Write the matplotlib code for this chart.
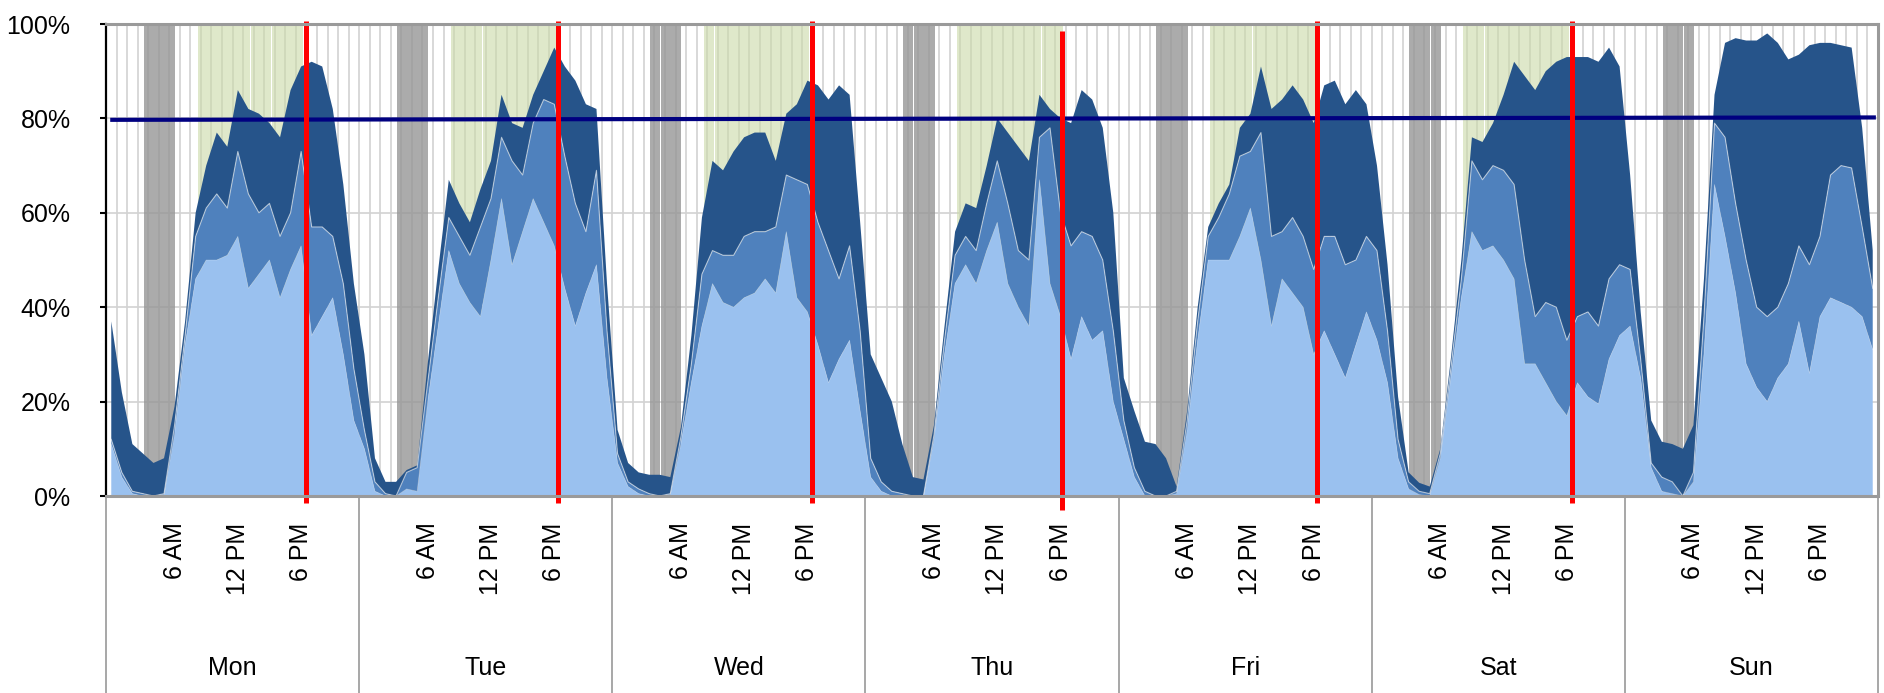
import numpy as np
import matplotlib
matplotlib.use("Agg")
import matplotlib.pyplot as plt
from matplotlib.transforms import blended_transform_factory

plt.rcParams['font.family'] = ['Liberation Sans', 'DejaVu Sans']

# ---------------- data ----------------
days = ["Mon", "Tue", "Wed", "Thu", "Fri", "Sat", "Sun"]
hour_ticks = [6, 12, 18]
hour_tick_labels = ["6 AM", "12 PM", "6 PM"]

# three stacked series, one row of 24 hourly values per day (percent)
light = [
    [11, 4, 0.5, 0, 0, 0.3, 13, 32, 46, 50, 50, 51, 55, 44, 47, 50, 42, 48, 53, 34, 38, 42, 30, 16],
    [10, 1, 0, 0, 1.5, 1, 20, 36, 52, 45, 41, 38, 50, 63, 49, 56, 63, 58, 53, 44, 36, 43, 49, 25],
    [7, 2, 0.5, 0, 0, 0.3, 11, 24, 36, 45, 41, 40, 42, 43, 46, 43, 56, 42, 39, 32, 24, 29, 33, 18],
    [4, 1, 0, 0, 0, 0, 12, 30, 45, 49, 45, 52, 58, 45, 40, 36, 67, 45, 38, 29, 38, 33, 35, 20],
    [12, 4, 0, 0, 0, 0.5, 14, 33, 50, 50, 50, 55, 61, 50, 36, 46, 43, 40, 30, 35, 30, 25, 32, 39],
    [33, 24, 8, 1.5, 0.3, 0, 8, 25, 42, 56, 52, 53, 50, 46, 28, 28, 24, 20, 17, 24, 21, 19.5, 29, 34],
    [36, 25, 6, 1, 0.5, 0, 3, 30, 66, 55, 43, 28, 23, 20, 25, 28, 37, 26, 38, 42, 41, 40, 38, 31],
]
medium = [
    [1, 1, 0.5, 0.5, 0, 0.2, 2, 2, 9, 11, 14, 10, 18, 20, 13, 12, 13, 12, 20, 23, 19, 13, 15, 11],
    [4, 2, 0.5, 0, 3.5, 5, 4, 6, 7, 10, 10, 19, 13, 13, 22, 12, 16, 26, 30, 28, 26, 13, 20, 10],
    [2, 1, 1, 0.5, 0, 0.2, 1.5, 4, 11, 7, 10, 11, 13, 13, 10, 14, 12, 25, 27, 26, 28, 17, 20, 17],
    [4, 2, 1, 0.5, 0, 0, 1, 3, 6, 6, 7, 10, 13, 17, 12, 14, 9, 33, 22, 24, 18, 22, 15, 15],
    [4, 2, 1, 0, 0, 0.5, 2, 4, 5, 9, 14, 17, 12, 27, 19, 10, 16, 15, 18, 20, 25, 24, 18, 16],
    [19, 11, 4, 1.5, 0.7, 0.5, 1, 2, 4, 15, 15, 17, 19, 20, 22, 10, 17, 20, 16, 14, 18, 16.5, 17, 15],
    [12, 4, 1, 3, 2.5, 0, 2, 8, 13, 21, 19, 22, 17, 18, 15, 17, 16, 23, 17, 26, 29, 29.5, 19, 13],
]
dark = [
    [25, 17, 10, 8.5, 7, 7.5, 4, 3, 5, 9, 13, 13, 13, 18, 21, 17, 21, 26, 18, 35, 34, 27, 21, 18],
    [16, 5, 2.5, 3, 0.5, 0.5, 4, 6, 8, 7, 7, 8, 8, 9, 8, 10, 6, 6, 12, 19, 26, 27, 13, 10],
    [5, 4, 3.5, 4, 4.5, 3.5, 2, 6, 12, 19, 18, 22, 21, 21, 21, 14, 13, 16, 22, 29, 32, 41, 32, 23],
    [22, 22, 19, 10.5, 4, 3.5, 2, 3, 5, 7, 9, 8, 9, 15, 22, 21, 9, 4, 20, 26, 30, 29, 28, 25],
    [9, 12, 10.5, 11, 8, 1, 2, 3, 2, 3, 2, 6, 8, 14, 27, 28, 28, 29, 31, 32, 33, 34, 36, 28],
    [18, 14, 9, 2, 1.8, 1.5, 1, 2, 4, 5, 8, 9, 16, 26, 39, 48, 49, 52, 60, 55, 54, 56, 49, 42],
    [20, 10, 9, 7.5, 8, 10, 10, 8, 6, 20, 35, 46.5, 56.5, 60, 56, 47.5, 40.5, 46.5, 41, 28, 25.5, 25.5, 21, 8],
]

night_hours = [3, 4, 5]              # grey columns
work_hours = list(range(8, 18))      # green columns
work_days = [0, 1, 2, 3, 4, 5]       # days with green columns
peak_day = [0, 1, 2, 3, 4, 5]        # red markers
peak_hour = [19.0, 18.9, 18.9, 18.65, 18.85, 19.0]
target_level = [79.7, 80.2]          # navy reference line (start, end)

# ---------------- figure ----------------
W, H = 1884, 693
fig = plt.figure(figsize=(W / 100, H / 100), dpi=100)
ax = fig.add_axes([106 / W, 197 / H, 1772 / W, 472 / H])

n_days = len(days)
n = 24 * n_days
x = np.arange(n) + 0.5
L = np.concatenate([np.asarray(r, float) for r in light])
M = np.concatenate([np.asarray(r, float) for r in medium])
D = np.concatenate([np.asarray(r, float) for r in dark])

# gridlines (under the semi-transparent columns)
for gx in range(1, n):
    ax.axvline(gx, color='#D2D2D2', lw=1.2, zorder=1)
for gy in [20, 40, 60, 80]:
    ax.axhline(gy, color='#D2D2D2', lw=1.2, zorder=1)

# background columns
for d in range(n_days):
    ax.bar([d * 24 + h + 0.58 for h in night_hours], 100, width=0.97, align='edge',
           color='#969696', alpha=0.8, linewidth=0, zorder=1.5)
for d in work_days:
    ax.bar([d * 24 + h + 0.7 for h in work_hours], 100, width=0.99, align='edge',
           color='#CAD9A8', alpha=0.6, linewidth=0, zorder=1.5)

# stacked areas
ax.stackplot(x, L, M, D, colors=['#9AC1EF', '#4F81BD', '#26548A'],
             linewidth=0, zorder=2)
ax.plot(x, L + M, color='white', lw=0.8, alpha=0.55, zorder=2.5)
ax.plot(x, L, color='white', lw=0.5, alpha=0.3, zorder=2.5)

# navy reference line
ax.plot([0.4, n - 0.2], target_level, color='#000080', lw=3.0, zorder=4,
        solid_capstyle='butt')

# red markers
for d, hh in zip(peak_day, peak_hour):
    top, bot = (100.6, -1.5) if d != 3 else (98.5, -3.0)
    ax.plot([d * 24 + hh] * 2, [bot, top], color='#FF0000', lw=3.6, zorder=5,
            clip_on=False, solid_capstyle='butt')

ax.set_xlim(0, n)
ax.set_ylim(0, 100)

# y axis
ax.set_yticks([0, 20, 40, 60, 80, 100])
ax.set_yticklabels([f"{v}%" for v in [0, 20, 40, 60, 80, 100]], fontsize=18)
ax.tick_params(axis='y', direction='out', length=4.5, width=1.5, pad=21,
               colors='black')

# x axis (multi-level category labels)
xt, xl = [], []
for d in range(n_days):
    for h, lab in zip(hour_ticks, hour_tick_labels):
        xt.append(d * 24 + h + 0.5)
        xl.append(lab)
ax.set_xticks(xt)
ax.set_xticklabels(xl, rotation=90, fontsize=18)
ax.tick_params(axis='x', length=0, pad=19)

trans = blended_transform_factory(ax.transData, ax.transAxes)
for d in range(n_days + 1):
    ax.plot([d * 24, d * 24], [0, -0.42], transform=trans, color='#A0A0A0',
            lw=1.3, clip_on=False, zorder=1)
for d, name in enumerate(days):
    ax.text(d * 24 + 12, -0.364, name, transform=trans, ha='center',
            va='center', fontsize=18)

# spines
ax.spines['left'].set_color('black')
ax.spines['left'].set_linewidth(1.6)
for s in ['top', 'right', 'bottom']:
    ax.spines[s].set_color('#9A9A9A')
    ax.spines[s].set_linewidth(2.2)
for s in ax.spines.values():
    s.set_zorder(6)

fig.savefig('out.png', dpi=100)
